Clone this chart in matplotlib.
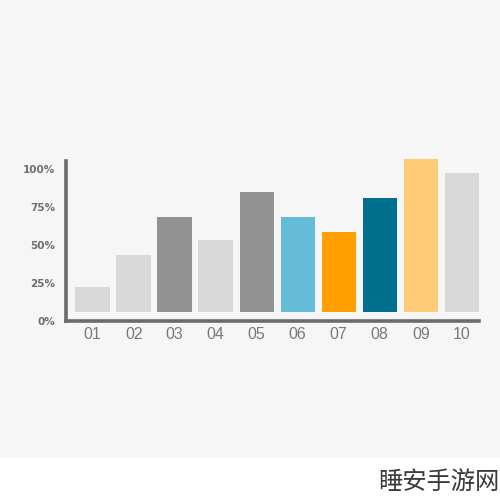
import matplotlib.pyplot as plt
from matplotlib.patches import Rectangle

categories = ["01", "02", "03", "04", "05", "06", "07", "08", "09", "10"]
values = [22, 43, 68.5, 53, 84.5, 68, 58.5, 80.5, 106.5, 97]
colors = ["#d9d9d9", "#d9d9d9", "#929292", "#d9d9d9", "#929292",
          "#64bcd7", "#ffa000", "#006f8e", "#ffcb77", "#d9d9d9"]
y_ticks = [0, 25, 50, 75, 100]
y_labels = ["0%", "25%", "50%", "75%", "100%"]
watermark = "睡安手游网"

BAR_BASE = 6

fig = plt.figure(figsize=(5, 5), dpi=100)
fig.patch.set_facecolor("white")
# light grey panel behind the chart, white strip at the bottom
fig.patches.append(Rectangle((0, 0.084), 1, 0.916, transform=fig.transFigure,
                             facecolor="#f6f6f6", edgecolor="none", zorder=-10))

ax = fig.add_axes([0.132, 0.358, 0.826, 0.32])
ax.set_facecolor("none")
ax.set_zorder(5)

x = range(len(categories))
heights = [v - BAR_BASE for v in values]
ax.bar(x, heights, bottom=BAR_BASE, width=0.84, color=colors, clip_on=False, zorder=2)

ax.set_xlim(-0.651, 9.42)
ax.set_ylim(0, 105)

for side in ["top", "right"]:
    ax.spines[side].set_visible(False)
for side in ["left", "bottom"]:
    ax.spines[side].set_color("#6b6b6b")
    ax.spines[side].set_linewidth(2.6)

ax.set_xticks(list(x))
ax.set_xticklabels(categories, fontsize=11.5, color="#7a7a7a", family="Liberation Sans")
ax.set_yticks(y_ticks)
ax.set_yticklabels(y_labels, fontsize=7.5, color="#6e6e6e", fontweight="bold",
                   family="DejaVu Sans")
ax.tick_params(axis="both", length=0)
ax.tick_params(axis="x", pad=4)
ax.tick_params(axis="y", pad=8)

fig.text(0.998, 0.036, watermark, ha="right", va="center", fontsize=17.5,
         color="#3a3a3a", family=["Noto Sans CJK SC", "DejaVu Sans"], fontweight="light")

fig.savefig("out.png", dpi=100)
